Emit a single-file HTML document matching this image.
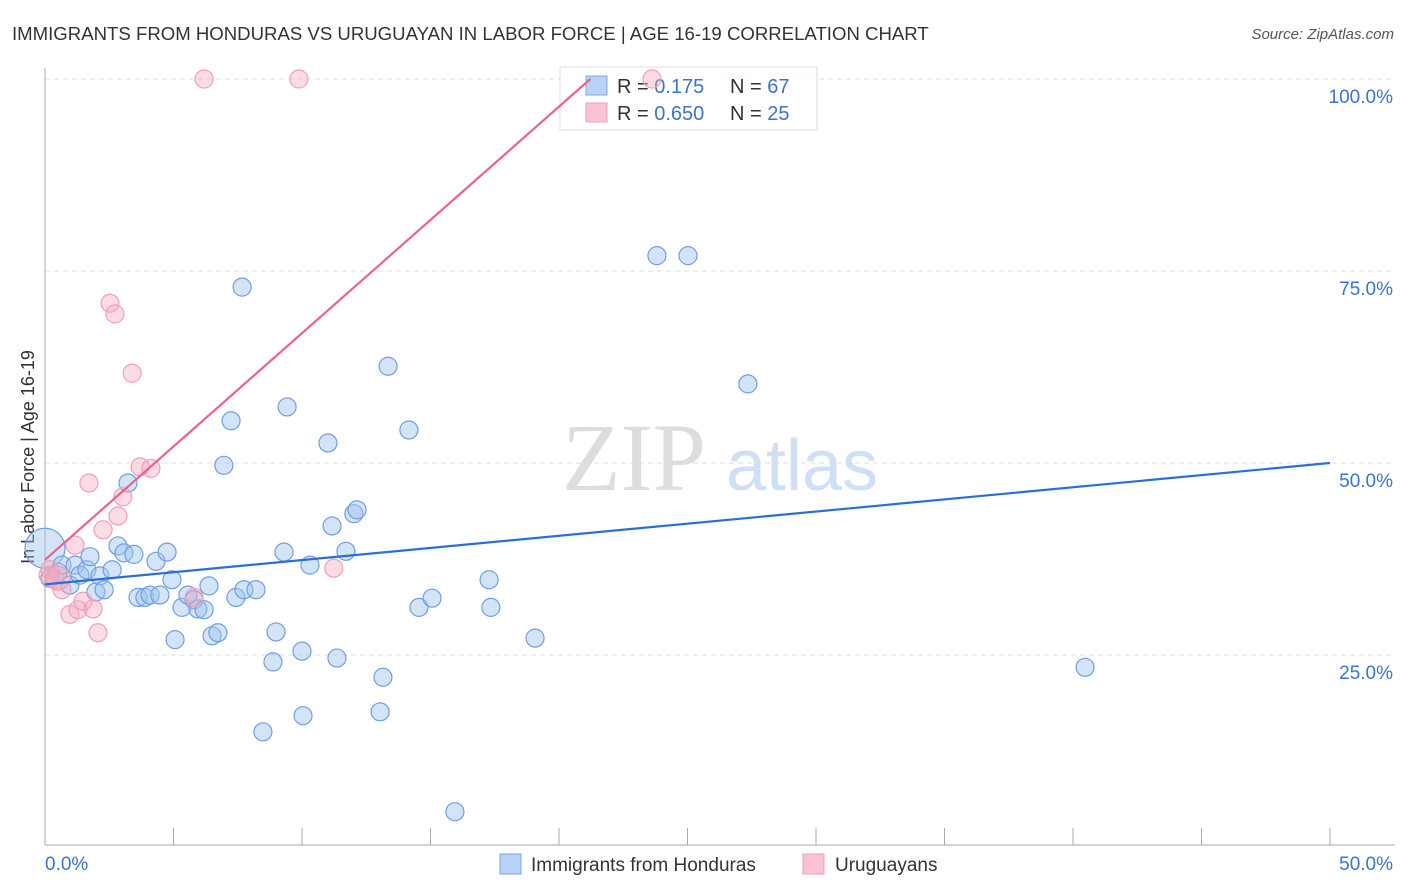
<!DOCTYPE html>
<html><head><meta charset="utf-8"><style>
body{margin:0;background:#fff;font-family:"Liberation Sans",sans-serif;}
svg{display:block}
</style></head><body>
<svg id="chart" width="1406" height="892">
<text x="12" y="40" font-size="18.6" fill="#333">IMMIGRANTS FROM HONDURAS VS URUGUAYAN IN LABOR FORCE | AGE 16-19 CORRELATION CHART</text>
<text x="1394" y="39" font-size="15" fill="#555" font-style="italic" text-anchor="end">Source: ZipAtlas.com</text>
<g>
<text x="634" y="490" font-family="Liberation Serif,serif" font-size="96" fill="#ddd" text-anchor="middle">ZIP</text>
<text x="802" y="490" font-size="72" fill="#cfe0f5" text-anchor="middle">atlas</text>
</g>
<g id="grid"></g><g id="axes"></g>
<text transform="translate(34,457) rotate(-90)" font-size="18" fill="#333" text-anchor="middle">In Labor Force | Age 16-19</text>
<g>
<rect x="560" y="67" width="257" height="63" fill="#fff" fill-opacity="0.85" stroke="#ddd"/>
<rect x="586" y="76" width="21" height="19" fill="#b8d2f5" stroke="#7aa8e6"/>
<rect x="586" y="103" width="21" height="19" fill="#f9c3d3" stroke="#ef9fb8"/>
<text x="617" y="93" font-size="20" fill="#333">R = <tspan fill="#3a73d0"> 0.175</tspan></text>
<text x="730" y="93" font-size="20" fill="#333">N = <tspan fill="#3a73d0">67</tspan></text>
<text x="617" y="120" font-size="20" fill="#333">R = <tspan fill="#3a73d0">0.650</tspan></text>
<text x="730" y="120" font-size="20" fill="#333">N = <tspan fill="#3a73d0">25</tspan></text>
</g>
<g id="marks"></g>
<g>
<rect x="500" y="854" width="21" height="20" fill="#b8d2f5" stroke="#7aa8e6"/>
<text x="531" y="871" font-size="19" fill="#333">Immigrants from Honduras</text>
<rect x="803" y="854" width="21" height="20" fill="#f9c3d3" stroke="#ef9fb8"/>
<text x="835" y="871" font-size="19" fill="#333">Uruguayans</text>
</g>
</svg>
<script>
const xTicks=[0,5,10,15,20,25,30,35,40,45,50];
const yTicks=[25,50,75,100];
const yTickLabels=["25.0%","50.0%","75.0%","100.0%"];
const xEndLabels=["0.0%","50.0%"];
const blueX=[0,0.19,0.51,0.66,0.97,1.17,1.36,1.63,1.75,1.98,2.14,2.30,2.61,2.84,3.07,3.23,3.46,3.62,3.89,4.09,4.32,4.47,4.75,4.94,5.06,5.33,5.56,5.80,5.95,6.19,6.38,6.50,6.73,6.96,7.24,7.43,7.67,7.74,8.21,8.48,8.87,8.99,9.30,9.42,10.0,10.04,10.31,11.01,11.17,11.36,11.71,12.02,12.14,13.15,13.04,13.35,14.16,14.55,15.06,15.95,17.28,17.35,19.07,23.81,25.02,27.35,40.47];
const blueY=[38.9,35.0,35.8,36.7,34.1,36.7,35.4,36.1,37.8,33.2,35.3,33.5,36.1,39.2,38.3,47.4,38.1,32.5,32.5,32.8,37.2,32.8,38.4,34.8,27.0,31.2,32.8,32.2,31.0,30.9,34.0,27.5,27.9,49.7,55.5,32.5,72.9,33.5,33.5,15.0,24.1,28.0,38.4,57.3,25.5,17.1,36.7,52.6,41.8,24.6,38.5,43.4,43.9,22.1,17.6,62.6,54.3,31.2,32.4,4.6,34.8,31.2,27.2,77.0,77.0,60.3,23.4];
const pinkX=[0.12,0.39,0.66,0.97,1.28,1.48,1.71,1.87,2.06,2.26,1.17,2.53,2.72,2.84,3.03,3.39,3.70,4.12,5.80,6.19,9.88,11.24,23.62,0.19,0.5];
const pinkY=[35.4,34.8,33.5,30.3,30.9,32.0,47.4,31.0,27.9,41.3,39.3,70.8,69.4,43.1,45.6,61.7,49.5,49.3,32.5,100,100,36.3,100,36.1,35.0];
const blueTrend=[34.2,50.0];
const pinkTrend=[37.4,2.95];
const NS='http://www.w3.org/2000/svg';
const X=v=>45+v/50*1285, Y=v=>847-v/100*768;
function mk(tag,attrs,parent){const e=document.createElementNS(NS,tag);for(const k in attrs)e.setAttribute(k,attrs[k]);document.getElementById(parent).appendChild(e);return e;}
yTicks.forEach((t,i)=>{
 const g=mk('line',{x1:45,x2:1395,y1:Y(t),y2:Y(t),stroke:'#ddd','stroke-dasharray':'5,4'},'grid');
 
 
 const l=mk('text',{x:1393,y:Y(t)+24,'font-size':19,fill:'#3a73d0','text-anchor':'end'},'axes');l.textContent=yTickLabels[i];
 
 
});
const topGrid=mk('line',{x1:45,x2:1395,y1:79,y2:79,stroke:'#ddd','stroke-dasharray':'5,4'},'grid');


const ax=mk('line',{x1:45,x2:1395,y1:845,y2:845,stroke:'#aaa'},'axes');


const ay=mk('line',{x1:45,x2:45,y1:68,y2:845,stroke:'#aaa'},'axes');


xTicks.forEach(t=>{const e=mk('line',{x1:X(t),x2:X(t),y1:828,y2:845,stroke:'#aaa'},'axes');
 
 });
[[0,'start',45],[50,'end',1393]].forEach((d,i)=>{const e=mk('text',{x:d[2],y:870,'font-size':19,fill:'#3a73d0','text-anchor':d[1]},'axes');e.textContent=xEndLabels[i];
 
 });
blueX.forEach((x,i)=>{const c=mk('circle',{cx:X(x),cy:Y(blueY[i]),r:i==0?20:9,fill:'rgba(160,196,240,0.45)',stroke:'#6f9fe0','stroke-width':1.2},'marks');
 
 });
pinkX.forEach((x,i)=>{const c=mk('circle',{cx:X(x),cy:Y(pinkY[i]),r:i==24?12:9,fill:'rgba(245,168,190,0.4)',stroke:'#f0a0b5','stroke-width':1.2},'marks');
 
 });
const bl=mk('line',{x1:X(0),y1:Y(blueTrend[0]),x2:X(50),y2:Y(blueTrend[1]),stroke:'#2a6fd6','stroke-width':2.2},'marks');


const xe=(100-pinkTrend[0])/pinkTrend[1];
const pl=mk('line',{x1:X(0),y1:Y(pinkTrend[0]),x2:X(xe),y2:Y(100),stroke:'#e8648e','stroke-width':2.2},'marks');


</script>
</body></html>
